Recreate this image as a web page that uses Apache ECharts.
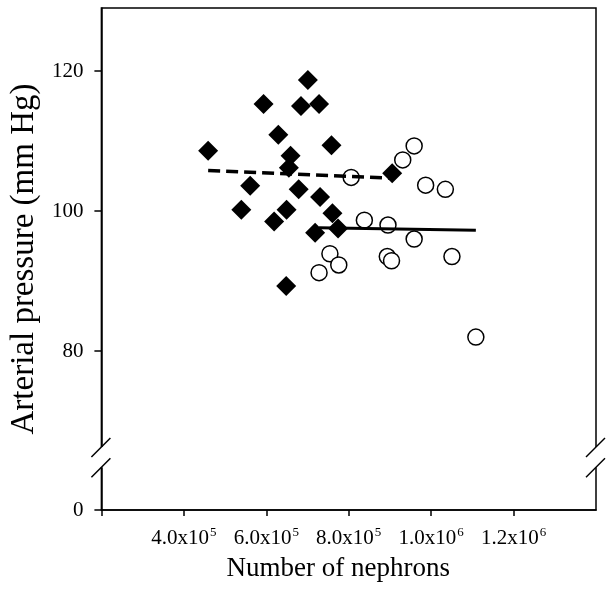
<!DOCTYPE html>
<html>
<head>
<meta charset="utf-8">
<script src="https://cdn.jsdelivr.net/npm/echarts@6/dist/echarts.min.js"></script>
<style>
  html, body { margin: 0; padding: 0; background: #fff; }
  #main { width: 614px; height: 591px; }
</style>
</head>
<body>
<div id="main"></div>
<script>
// filled diamonds
var diamondX = [459000, 561000, 539500, 593400, 629300, 619000, 649300, 648400, 654800, 658900,
                678700, 684200, 700900, 728100, 718600, 758200, 760600, 774200, 730500, 905500];
var diamondY = [108.6, 103.6, 100.2, 115.3, 110.9, 98.5, 100.2, 89.3, 106.2, 107.9,
                103.1, 115.0, 118.7, 115.3, 96.9, 109.4, 99.7, 97.5, 102.0, 105.4];
// open circles
var circleX = [806000, 958800, 931100, 986700, 1034500, 838000, 895300, 958800, 754400, 775900,
               728100, 893600, 903900, 1050500, 1108500];
var circleY = [104.8, 109.3, 107.3, 103.7, 103.1, 98.7, 98.0, 96.0, 93.9, 92.3,
               91.2, 93.5, 92.9, 93.5, 82.0];
// regression lines
var dashedX = [459000, 905500];
var dashedY = [105.8, 104.7];
var solidX = [728100, 1108500];
var solidY = [97.6, 97.25];

var xMin = 200000, xMax = 1400000;
var xTicks = [200000, 400000, 600000, 800000, 1000000, 1200000];
var xLabels = [400000, 600000, 800000, 1000000, 1200000];
var yMin = 57.3, yMax = 129;          // bottom of the axis stands for 0 (broken axis)
var yTicks = [57.3, 80, 100, 120];
var yBreak = [63.4, 66.3];

var serif = 'Liberation Serif';

function pairs(xs, ys) {
    return xs.map(function (x, i) { return [x, ys[i]]; });
}

var chart = echarts.init(document.getElementById('main'), null, { renderer: 'canvas' });

var option = {
    animation: false,
    backgroundColor: '#fff',
    grid: {
        left: 95, right: 18, top: 8, bottom: 81,
        show: true, borderColor: '#000', borderWidth: 1.5
    },
    xAxis: {
        type: 'value',
        min: xMin, max: xMax,
        name: 'Number of nephrons',
        nameLocation: 'middle',
        nameGap: 45,
        nameTextStyle: { fontFamily: serif, fontSize: 27, color: '#000', padding: [0, 21, 0, 0] },
        axisLine: { lineStyle: { color: '#000', width: 1.5 } },
        axisTick: { show: true, length: 6, customValues: xTicks, lineStyle: { color: '#000', width: 1.5 } },
        splitLine: { show: false },
        axisLabel: {
            customValues: xLabels,
            margin: 16,
            formatter: function (v) {
                var e = Math.floor(Math.log10(v) + 1e-9);
                var m = (v / Math.pow(10, e)).toFixed(1);
                return '{b|' + m + 'x10}{s|' + e + '}';
            },
            rich: {
                b: { fontFamily: serif, fontSize: 21, color: '#000' },
                s: { fontFamily: serif, fontSize: 13, color: '#000', padding: [0, 0, 11, 1] }
            }
        }
    },
    yAxis: {
        type: 'value',
        min: yMin, max: yMax,
        name: 'Arterial pressure (mm Hg)',
        nameLocation: 'middle',
        nameGap: 48,
        nameTextStyle: { fontFamily: serif, fontSize: 33, color: '#000' },
        axisLine: { lineStyle: { color: '#000', width: 1.5 } },
        axisTick: { show: true, length: 7, customValues: yTicks, lineStyle: { color: '#000', width: 1.5 } },
        splitLine: { show: false },
        axisLabel: {
            customValues: yTicks,
            margin: 18,
            fontFamily: serif, fontSize: 21, color: '#000',
            formatter: function (v) { return v < 60 ? '0' : String(v); }
        }
    },
    series: [
        {
            type: 'scatter',
            data: pairs(circleX, circleY),
            symbol: 'circle',
            symbolSize: 16,
            itemStyle: { color: '#fff', borderColor: '#000', borderWidth: 1.5, opacity: 1 }
        },
        {
            type: 'scatter',
            data: pairs(diamondX, diamondY),
            symbol: 'diamond',
            symbolSize: 20,
            itemStyle: { color: '#000', opacity: 1 }
        },
        {
            type: 'line',
            data: pairs(dashedX, dashedY),
            showSymbol: false,
            lineStyle: { color: '#000', width: 3.5, type: [12, 6] }
        },
        {
            type: 'line',
            data: pairs(solidX, solidY),
            showSymbol: false,
            lineStyle: { color: '#000', width: 3 }
        }
    ]
};
chart.setOption(option);

// axis break marks on both vertical edges
var els = [];
[xMin, xMax].forEach(function (xv) {
    var lo = chart.convertToPixel({ gridIndex: 0 }, [xv, yBreak[0]]);
    var hi = chart.convertToPixel({ gridIndex: 0 }, [xv, yBreak[1]]);
    els.push({
        type: 'rect', z: 100,
        shape: { x: hi[0] - 3, y: hi[1], width: 6, height: lo[1] - hi[1] },
        style: { fill: '#fff' }
    });
    [lo, hi].forEach(function (p) {
        els.push({
            type: 'line', z: 101,
            shape: { x1: p[0] - 10, y1: p[1] + 10, x2: p[0] + 9, y2: p[1] - 9 },
            style: { stroke: '#000', lineWidth: 1.5 }
        });
    });
});
chart.setOption({ graphic: els });
</script>
</body>
</html>
